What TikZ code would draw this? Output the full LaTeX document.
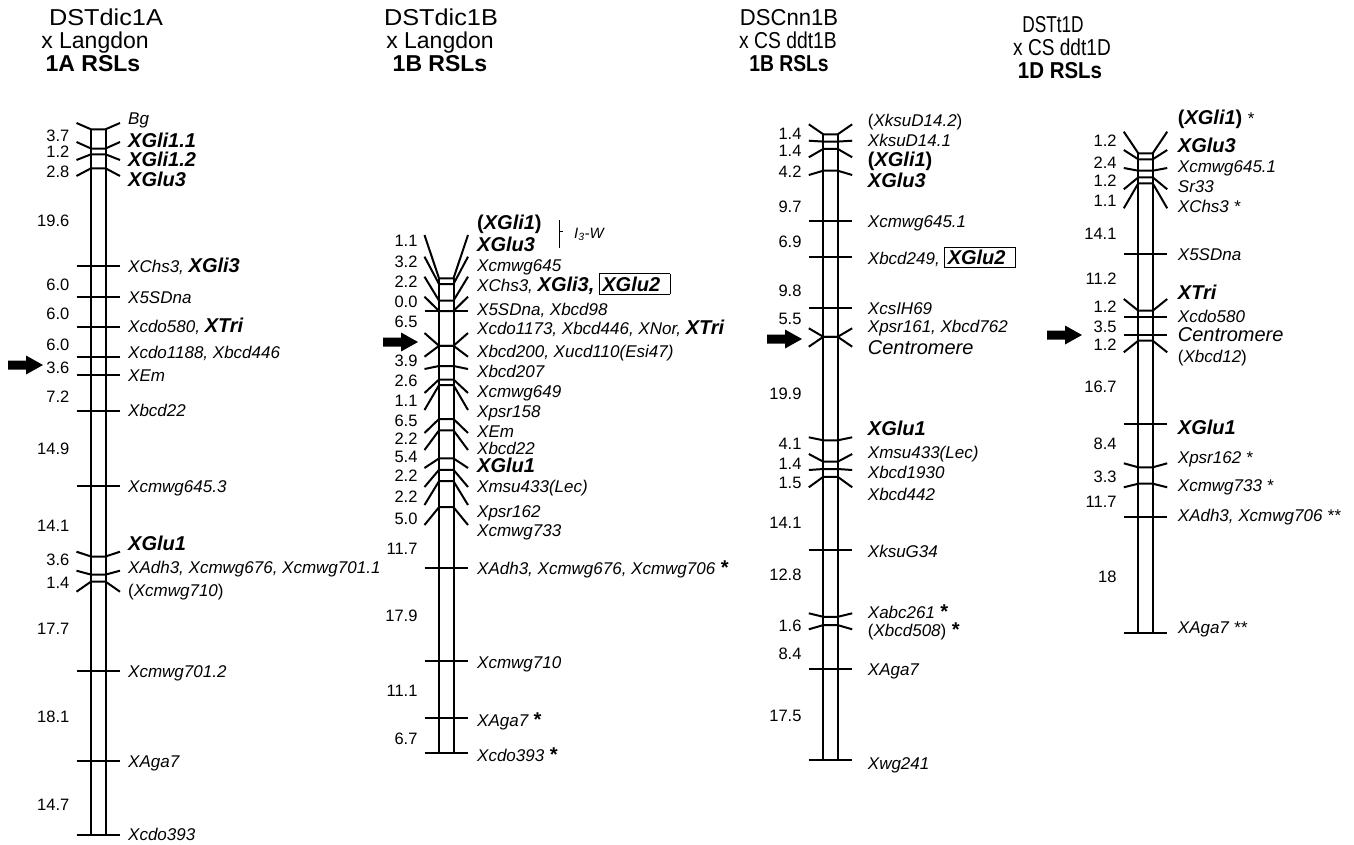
\documentclass[tikz,border=0pt]{standalone}
\usepackage{fontspec}
\usepackage{graphicx}
\setmainfont{Liberation Sans}
% bold gene names and boxed loci
\newcommand{\gb}[1]{{\fontsize{20}{22}\selectfont\bfseries #1}}
\newcommand{\gbox}[1]{{\setlength{\fboxsep}{2.5pt}\setlength{\fboxrule}{0.8pt}\fbox{\gb{#1}\hspace{7pt}}}}
\newcommand{\cen}{{\fontsize{20}{22}\selectfont Centromere}}
\newcommand{\hs}[2]{\scalebox{#1}[1]{#2}}
\tikzset{
  chrom/.style={line width=2pt},
  lbl/.style={anchor=west, inner sep=0, font=\fontsize{17}{19}\selectfont\itshape, text height=14pt, text depth=2pt},
  cmnum/.style={anchor=east, inner sep=0, font=\fontsize{16.5}{19}\selectfont, text height=14pt, text depth=2pt},
  ttl/.style={inner sep=0, font=\fontsize{23}{25}\selectfont, text height=18pt, text depth=2pt},
}
\begin{document}
\begin{tikzpicture}[x=1pt, y=-1pt, line join=miter]
\useasboundingbox (0,0) rectangle (1354,844);

% titles
\node[ttl] (t1a) at (106,17) {\hs{1.1}{DSTdic1A}};
\node[ttl] (t1b) at (95,40) {x Langdon};
\node[ttl] (t1c) at (93,63) {\bfseries 1A RSLs};
\node[ttl] (t2a) at (441,17) {\hs{1.1}{DSTdic1B}};
\node[ttl] (t2b) at (440,40) {x Langdon};
\node[ttl] (t2c) at (440,63) {\bfseries 1B RSLs};
\node[ttl] (t3a) at (789,17) {\hs{0.96}{DSCnn1B}};
\node[ttl] (t3b) at (788,40) {\hs{0.84}{x CS ddt1B}};
\node[ttl] (t3c) at (789,63) {\hs{0.84}{\bfseries 1B RSLs}};
\node[ttl] (t4a) at (1053,24) {\hs{0.75}{DSTt1D}};
\node[ttl] (t4b) at (1062,47) {\hs{0.83}{x CS ddt1D}};
\node[ttl] (t4c) at (1060,70) {\hs{0.89}{\bfseries 1D RSLs}};

% centromere arrows
\foreach \tx/\ty in {43/365, 418/342, 802/339, 1082/335}
  \fill (\tx-35,\ty-4.5) -- (\tx-17,\ty-4.5) -- (\tx-17,\ty-9.5) -- (\tx,\ty)
    -- (\tx-17,\ty+9.5) -- (\tx-17,\ty+4.5) -- (\tx-35,\ty+4.5) -- cycle;

% 1A
\begin{scope}
\def\xa{91} \def\xb{105.5} \def\lx{128} \def\nx{69.5}
\draw[chrom] (\xa,129.3) -- (\xa,835.1) (\xb,129.3) -- (\xb,835.1);
\foreach \cy/\ey/\ly/\txt [count=\i] in {
  129.3/123/118/Bg,
  148.5/142/141.5/\gb{XGli1.1},
  154.3/160/160/\gb{XGli1.2},
  168.3/176/180/\gb{XGlu3},
  266.4/266.4/266.5/{XChs3, \gb{XGli3}},
  296.5/296.5/297/X5SDna,
  326.6/326.6/326.5/{Xcdo580, \gb{XTri}},
  356.7/356.7/352.5/{Xcdo1188, Xbcd446},
  374.8/374.8/375/XEm,
  410.9/410.9/410.5/Xbcd22,
  485.7/485.7/486/Xcmwg645.3,
  556.5/551.7/544/\gb{XGlu1},
  574.6/570.7/567/{XAdh3, Xcmwg676, Xcmwg701.1},
  581.6/591.7/590.7/{\textup{(}Xcmwg710\textup{)}},
  670.5/670.5/671/Xcmwg701.2,
  761.3/761.3/761.5/XAga7,
  835.1/835.1/834/Xcdo393}{
  \draw[chrom] (\xa-14.5,\ey) -- (\xa,\cy) -- (\xb,\cy) -- (\xb+14.5,\ey);
  \node[lbl] (A\i) at (\lx,\ly) {\txt};
}
\foreach \ny/\txt [count=\i] in {135/3.7, 151.7/1.2, 171.7/2.8, 220/19.6, 284/6.0,
  313.3/6.0, 344.3/6.0, 367.3/3.6, 396/7.2, 448.3/14.9, 525.7/14.1, 559/3.6,
  582.3/1.4, 628.3/17.7, 716/18.1, 804/14.7}
  \node[cmnum] (An\i) at (\nx,\ny) {\txt};
\end{scope}

% 1B
\begin{scope}
\def\xa{439} \def\xb{453.5} \def\lx{477} \def\nx{417.7}
\draw[chrom] (\xa,278.3) -- (\xa,753.2) (\xb,278.3) -- (\xb,753.2);
\foreach \cy/\ey/\ly/\txt [count=\i] in {
  278.3/235/223.3/{\gb{\textup{(}XGli1\textup{)}}},
  284.0/256.7/245/\gb{XGlu3},
  300.6/276.7/265/Xcmwg645,
  311/296.7/285/{XChs3, \gb{XGli3,} \gbox{XGlu2}},
  311/311/309.3/{X5SDna, Xbcd98},
  345.8/333/328.3/{Xcdo1173, Xbcd446, XNor, \gb{XTri}},
  345.8/356.7/351.7/{Xbcd200, Xucd110(Esi47)},
  366.0/369/371.7/Xbcd207,
  379.5/393/391.7/Xcmwg649,
  385.2/410/411.7/Xpsr158,
  419.0/433/431.7/XEm,
  430.4/450/448.3/Xbcd22,
  458.4/468/466.7/\gb{XGlu1},
  469.8/487/486.7/Xmsu433(Lec),
  481.2/505/511.7/Xpsr162,
  507.2/525/530/Xcmwg733,
  567.9/567.9/568.3/{XAdh3, Xcmwg676, Xcmwg706 \gb{*}},
  660.8/660.8/662.7/Xcmwg710,
  718.4/718.4/720/{XAga7 \gb{*}},
  753.2/753.2/755/{Xcdo393 \gb{*}}}{
  \draw[chrom] (\xa-14.5,\ey) -- (\xa,\cy) -- (\xb,\cy) -- (\xb+14.5,\ey);
  \node[lbl] (B\i) at (\lx,\ly) {\txt};
}
\foreach \ny/\txt [count=\i] in {240/1.1, 261.7/3.2, 281.7/2.2, 301.7/0.0, 321.7/6.5,
  360/3.9, 380/2.6, 400/1.1, 420/6.5, 438.3/2.2, 456.7/5.4, 475/2.2, 496.7/2.2,
  518.3/5.0, 548.3/11.7, 615/17.9, 690/11.1, 738.3/6.7}
  \node[cmnum] (Bn\i) at (\nx,\ny) {\txt};
% I3-W bracket
\draw[line width=0.6pt] (559,220) -- (559,248.3) (559,231.7) -- (563,231.7);
\node[lbl, font=\fontsize{15}{17}\selectfont\itshape] (iw) at (574,232) {I\textsubscript{3}-W};
\end{scope}

% 1B (Cnn)
\begin{scope}
\def\xa{823.3} \def\xb{837.7} \def\lx{867.7} \def\nx{801.7}
\draw[chrom] (\xa,134.3) -- (\xa,760) (\xb,134.3) -- (\xb,760);
\foreach \cy/\ey/\ly/\txt [count=\i] in {
  134.3/124.3/120/{\textup{(}XksuD14.2\textup{)}},
  141.6/140.7/140/XksuD14.1,
  148.9/157.3/160/{\gb{\textup{(}XGli1\textup{)}}},
  170.7/175/181.7/\gb{XGlu3},
  221.2/221.2/221.7/Xcmwg645.1,
  257.1/257.1/258.3/{Xbcd249, \gbox{XGlu2}},
  308.1/308.1/308.3/XcsIH69,
  336.8/328.3/326.7/{Xpsr161, Xbcd762},
  336.8/346.7/348.3/\cen,
  440.3/437.3/429.3/\gb{XGlu1},
  461.7/454/452.7/Xmsu433(Lec),
  469.0/470/472.7/Xbcd1930,
  476.8/487.3/494.3/Xbcd442,
  550.2/550.2/551.7/XksuG34,
  616.8/613.3/612.3/{Xabc261 \gb{*}},
  625.1/629.3/630/{\textup{(}Xbcd508\textup{)} \gb{*}},
  668.8/668.8/669.3/XAga7,
  760/760/763.3/Xwg241}{
  \draw[chrom] (\xa-14.5,\ey) -- (\xa,\cy) -- (\xb,\cy) -- (\xb+14.5,\ey);
  \node[lbl] (C\i) at (\lx,\ly) {\txt};
}
\foreach \ny/\txt [count=\i] in {133.3/1.4, 150/1.4, 171/4.2, 206/9.7, 241.7/6.9,
  290/9.8, 318.3/5.5, 393.3/19.9, 443.3/4.1, 463.3/1.4, 482.7/1.5, 522.7/14.1,
  574/12.8, 625.7/1.6, 653.3/8.4, 715/17.5}
  \node[cmnum] (Cn\i) at (\nx,\ny) {\txt};
\end{scope}

% 1D
\begin{scope}
\def\xa{1138.3} \def\xb{1152.7} \def\lx{1177.7} \def\nx{1116.7}
\draw[chrom] (\xa,153.3) -- (\xa,632.7) (\xb,153.3) -- (\xb,632.7);
\foreach \cy/\ey/\ly/\txt [count=\i] in {
  153.3/131.7/118.3/{\gb{\textup{(}XGli1\textup{)}} *},
  159.3/150/146.7/\gb{XGlu3},
  170.7/168/166.7/Xcmwg645.1,
  177.3/189.3/186.7/Sr33,
  183.3/208.3/206/{XChs3 *},
  254/254/254/X5SDna,
  310.7/299/293.3/\gb{XTri},
  316.7/316.7/316/Xcdo580,
  335/335/335/\cen,
  340.7/352.3/356.7/{\textup{(}Xbcd12\textup{)}},
  424.3/424.3/428.3/\gb{XGlu1},
  467.3/463.3/457.3/{Xpsr162 *},
  483.7/487.3/485/{Xcmwg733 *},
  516.7/516.7/515/{XAdh3, Xcmwg706 **},
  632.7/632.7/627.3/{XAga7 **}}{
  \draw[chrom] (\xa-14.5,\ey) -- (\xa,\cy) -- (\xb,\cy) -- (\xb+14.5,\ey);
  \node[lbl] (D\i) at (\lx,\ly) {\txt};
}
\foreach \ny/\txt [count=\i] in {140/1.2, 162.3/2.4, 180/1.2, 200/1.1, 233.3/14.1,
  278.3/11.2, 306.7/1.2, 326.7/3.5, 344.3/1.2, 386/16.7, 443.3/8.4, 476.7/3.3,
  501.7/11.7, 576/18}
  \node[cmnum] (Dn\i) at (\nx,\ny) {\txt};
\end{scope}
\end{tikzpicture}
\end{document}
